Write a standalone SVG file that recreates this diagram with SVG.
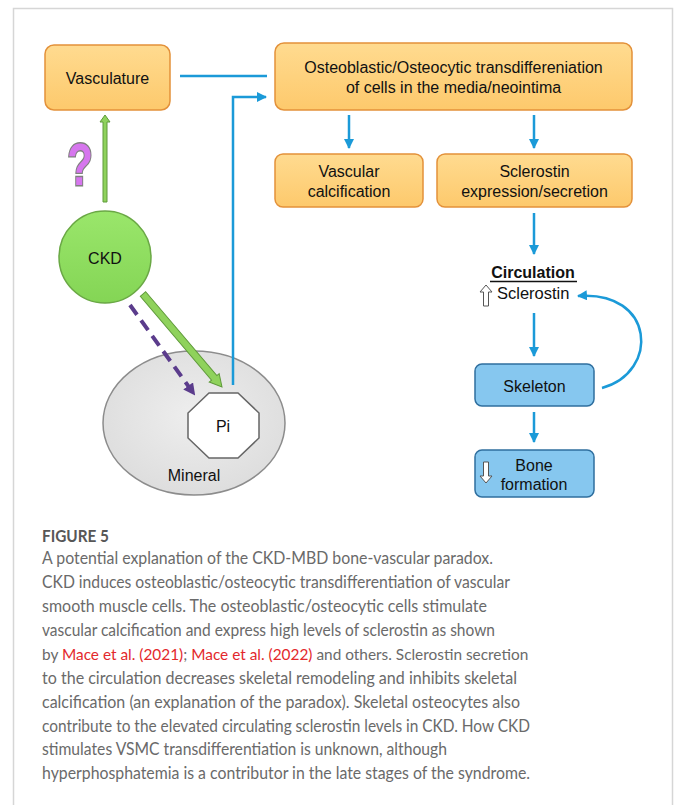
<svg xmlns="http://www.w3.org/2000/svg" width="675" height="805" viewBox="0 0 675 805">
<style>
.box{fill:url(#og);stroke:#e3913a;stroke-width:1.5}
.bbox{fill:#86c7ef;stroke:#2f6f9f;stroke-width:1.5}
.t{font-family:"Liberation Sans",Arial,sans-serif;font-size:16px;fill:#111;text-anchor:middle}
.conn{fill:none;stroke:#1b9ad8;stroke-width:2.5}
.cap{font-family:Lato,"Open Sans",sans-serif;font-size:17.5px;fill:#6a6a6a}
.red{fill:#e3282c}
</style>
<defs>
<linearGradient id="og" x1="0" y1="0" x2="0" y2="1"><stop offset="0" stop-color="#ffdb90"/><stop offset="1" stop-color="#fdc96c"/></linearGradient>
<linearGradient id="cg" x1="0" y1="0" x2="0" y2="1"><stop offset="0" stop-color="#9ae66b"/><stop offset="1" stop-color="#84d555"/></linearGradient>
<radialGradient id="eg" cx="0.5" cy="0.45" r="0.6"><stop offset="0" stop-color="#eeeeee"/><stop offset="1" stop-color="#dcdcdc"/></radialGradient>
<marker id="ab" markerWidth="10" markerHeight="10" refX="9" refY="5" orient="auto" markerUnits="userSpaceOnUse"><path d="M0,0 L10,5 L0,10 Z" fill="#1b9ad8"/></marker>
<marker id="ap" markerWidth="12" markerHeight="12" refX="10" refY="6" orient="auto" markerUnits="userSpaceOnUse"><path d="M0,0 L12,6 L0,12 Z" fill="#5b3c8c"/></marker>
</defs>
<rect x="13.5" y="8.5" width="659" height="820" fill="#fff" stroke="#d6d6d6" stroke-width="1.5"/>

<g id="vasculature">
<rect class="box" x="45" y="45" width="125" height="65" rx="9"/>
<text class="t" x="107.5" y="84">Vasculature</text>
</g>
<g id="osteo">
<rect class="box" x="275" y="43" width="357" height="67" rx="9"/>
<text class="t" x="453.5" y="73">Osteoblastic/Osteocytic transdifferenіation</text>
<text class="t" x="453.5" y="93">of cells in the media/neointima</text>
</g>
<g id="vascular-calcification">
<rect class="box" x="275" y="154" width="148" height="53" rx="8"/>
<text class="t" x="349" y="177">Vascular</text>
<text class="t" x="349" y="197">calcification</text>
</g>
<g id="sclerostin-expression">
<rect class="box" x="437" y="154" width="195" height="53" rx="8"/>
<text class="t" x="534.5" y="177">Sclerostin</text>
<text class="t" x="534.5" y="197">expression/secretion</text>
</g>
<g id="question">
<text transform="translate(80,185) scale(1,1.4)" x="0" y="0" font-family="Liberation Sans,Arial,sans-serif" font-size="42" font-weight="bold" text-anchor="middle" fill="#d676ee" stroke="#808080" stroke-width="2" paint-order="stroke">?</text>
</g>
<g id="ckd">
<circle cx="105" cy="257" r="46" fill="url(#cg)" stroke="#6aa845" stroke-width="1.5"/>
<text class="t" x="105" y="264" font-size="17">CKD</text>
</g>
<g id="mineral">
<ellipse cx="194" cy="423" rx="91" ry="72" fill="url(#eg)" stroke="#8c8c8c" stroke-width="1.5"/>
<text class="t" x="194" y="481">Mineral</text>
</g>
<g id="pi">
<polygon points="209,393 238,393 259,413 259,438 238,458 209,458 188,438 188,413" fill="#fff" stroke="#666" stroke-width="1.5"/>
<text class="t" x="223" y="432">Pi</text>
</g>
<g id="circulation">
<text class="t" x="533" y="278" font-weight="bold" font-size="16.5">Circulation</text>
<line x1="490" y1="281.5" x2="577" y2="281.5" stroke="#111" stroke-width="1.5"/>
<polygon points="486,285 492,292 488.5,292 488.5,306 483.5,306 483.5,292 480,292" fill="#fff" stroke="#555" stroke-width="1"/>
<text x="497" y="299" font-family="Liberation Sans,Arial,sans-serif" font-size="16.5" fill="#111">Sclerostin</text>
</g>
<g id="skeleton">
<rect class="bbox" x="475" y="364" width="119" height="42" rx="7"/>
<text class="t" x="534.5" y="392">Skeleton</text>
</g>
<g id="bone-formation">
<rect class="bbox" x="475" y="450" width="119" height="47" rx="7"/>
<polygon points="486,483 492,476 488.5,476 488.5,462 483.5,462 483.5,476 480,476" fill="#fff" stroke="#555" stroke-width="1"/>
<text class="t" x="534" y="471">Bone</text>
<text class="t" x="534" y="490">formation</text>
</g>

<g id="connectors">
<line class="conn" x1="180" y1="76" x2="267" y2="76"/>
<polyline class="conn" points="233,385 233,97 266,97" marker-end="url(#ab)"/>
<line class="conn" x1="349" y1="115" x2="349" y2="148" marker-end="url(#ab)"/>
<line class="conn" x1="534" y1="115" x2="534" y2="148" marker-end="url(#ab)"/>
<line class="conn" x1="534" y1="213" x2="534" y2="254" marker-end="url(#ab)"/>
<line class="conn" x1="534" y1="313" x2="534" y2="356" marker-end="url(#ab)"/>
<line class="conn" x1="534" y1="412" x2="534" y2="442" marker-end="url(#ab)"/>
<path class="conn" d="M602,388 C660,372 655,290 578,296" marker-end="url(#ab)"/>
<polygon points="103,202 103,122 100,122 105,115 110,122 107,122 107,202" fill="#8fd25c" stroke="#5f9a3a" stroke-width="1"/>
<polygon transform="translate(143,294) rotate(49.66)" points="0,-3.5 110,-3.5 110,-6.5 122,0 110,6.5 110,3.5 0,3.5" fill="#8fd25c" stroke="#5f9a3a" stroke-width="1"/>
<line x1="130" y1="305" x2="194" y2="394" stroke="#5b3c8c" stroke-width="4" stroke-dasharray="12 7" marker-end="url(#ap)"/>
</g>

<g id="caption">
<text x="42" y="542" font-family="Lato,'Open Sans',sans-serif" font-size="17.5" font-weight="bold" fill="#575757" textLength="67" lengthAdjust="spacingAndGlyphs">FIGURE 5</text>
<text class="cap" x="42" y="564" textLength="451" lengthAdjust="spacingAndGlyphs">A potential explanation of the CKD-MBD bone-vascular paradox.</text>
<text class="cap" x="42" y="588" textLength="468" lengthAdjust="spacingAndGlyphs">CKD induces osteoblastic/osteocytic transdifferentiation of vascular</text>
<text class="cap" x="42" y="612" textLength="445" lengthAdjust="spacingAndGlyphs">smooth muscle cells. The osteoblastic/osteocytic cells stimulate</text>
<text class="cap" x="42" y="636" textLength="453" lengthAdjust="spacingAndGlyphs">vascular calcification and express high levels of sclerostin as shown</text>
<text class="cap" x="42" y="660" style="font-size:15.4px">by <tspan class="red">Mace et al. (2021)</tspan>; <tspan class="red">Mace et al. (2022)</tspan> and others. Sclerostin secretion</text>
<text class="cap" x="42" y="684" textLength="475" lengthAdjust="spacingAndGlyphs">to the circulation decreases skeletal remodeling and inhibits skeletal</text>
<text class="cap" x="42" y="708" textLength="478" lengthAdjust="spacingAndGlyphs">calcification (an explanation of the paradox). Skeletal osteocytes also</text>
<text class="cap" x="42" y="732" textLength="488" lengthAdjust="spacingAndGlyphs">contribute to the elevated circulating sclerostin levels in CKD. How CKD</text>
<text class="cap" x="42" y="755" textLength="405" lengthAdjust="spacingAndGlyphs">stimulates VSMC transdifferentiation is unknown, although</text>
<text class="cap" x="42" y="779" textLength="488" lengthAdjust="spacingAndGlyphs">hyperphosphatemia is a contributor in the late stages of the syndrome.</text>
</g>
</svg>
